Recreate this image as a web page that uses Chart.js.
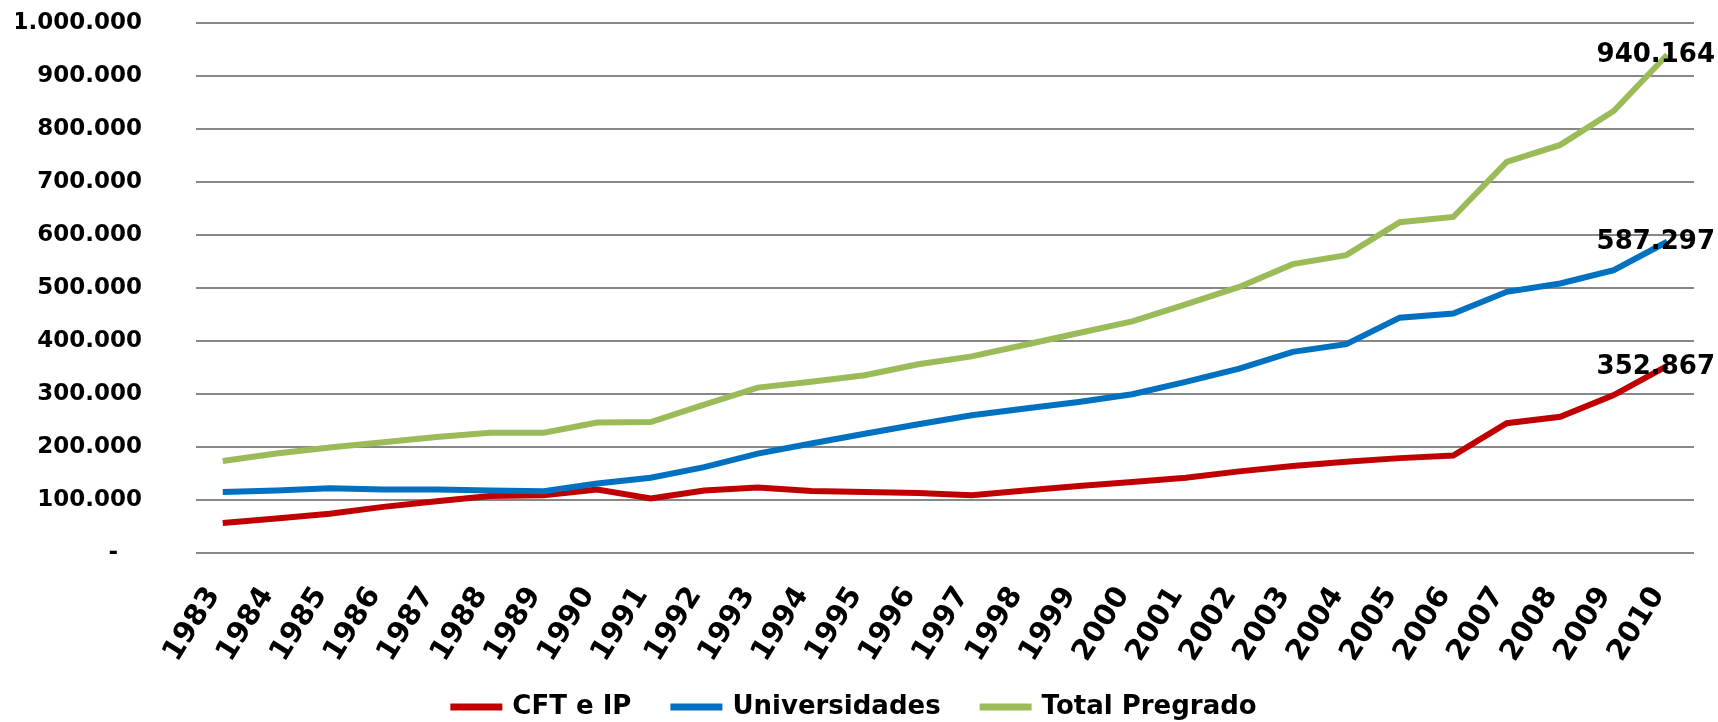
<!DOCTYPE html>
<html>
<head>
<meta charset="utf-8">
<script src="https://cdn.jsdelivr.net/npm/chart.js@4.4.1/dist/chart.umd.min.js"></script>
<style>
	html, body { margin: 0; padding: 0; background: #fff; }
	#wrap { width: 1718px; height: 722px; }
</style>
</head>
<body>
<div id="wrap"><canvas id="matricula"></canvas></div>
<script>
const years = ["1983", "1984", "1985", "1986", "1987", "1988", "1989", "1990", "1991", "1992",
	"1993", "1994", "1995", "1996", "1997", "1998", "1999", "2000", "2001", "2002",
	"2003", "2004", "2005", "2006", "2007", "2008", "2009", "2010"];

const cftIp = [56700, 65000, 74000, 87000, 97600, 107600, 109000, 119600, 102700, 118000,
	123400, 117000, 115000, 113000, 109000, 118000, 126500, 134000, 142000, 154000,
	164000, 172000, 179000, 184000, 245000, 257000, 298000, 352867];

const universidades = [115000, 118000, 122000, 120000, 120000, 118000, 116500, 131000, 142000, 162000,
	187600, 206500, 225000, 243000, 260000, 272600, 285000, 299600, 322800, 348000,
	379500, 394000, 444000, 452000, 492800, 508600, 533700, 587297];

const totalPregrado = [173700, 187600, 199000, 209000, 219000, 227000, 227000, 246000, 247000, 280000,
	312000, 323000, 335500, 356000, 371000, 393000, 415000, 437000, 469000, 502000,
	545000, 562000, 624000, 634000, 738000, 770000, 834000, 940164];

const yMin = 0;
const yMax = 1000000;
const yStep = 100000;

const FONT = "'DejaVu Sans', Verdana, sans-serif";

// 1.000.000 style, zero shown as a dash like excel accounting format
function fmt(v) {
	if (v === 0) return "-   ";
	return String(Math.round(v)).replace(/\B(?=(\d{3})+(?!\d))/g, ".");
}

// last value of each series written at the right edge
const endLabels = {
	id: "endLabels",
	afterDatasetsDraw(chart) {
		const ctx = chart.ctx;
		ctx.save();
		ctx.font = "bold 26px " + FONT;
		ctx.fillStyle = "#000";
		ctx.textAlign = "right";
		ctx.textBaseline = "middle";
		chart.data.datasets.forEach((ds, i) => {
			const meta = chart.getDatasetMeta(i);
			const last = meta.data[meta.data.length - 1];
			ctx.fillText(fmt(ds.data[ds.data.length - 1]), chart.width - 3, last.y + 1);
		});
		ctx.restore();
	}
};

document.addEventListener("DOMContentLoaded", function () {
	const ctx = document.getElementById("matricula").getContext("2d");

	new Chart(ctx, {
		type: "line",
		data: {
			labels: years,
			datasets: [
				{ label: "CFT e IP", data: cftIp, borderColor: "#C00000", backgroundColor: "#C00000", order: 3 },
				{ label: "Universidades", data: universidades, borderColor: "#0070C0", backgroundColor: "#0070C0", order: 2 },
				{ label: "Total Pregrado", data: totalPregrado, borderColor: "#9BBB59", backgroundColor: "#9BBB59", order: 1 }
			]
		},
		options: {
			responsive: true,
			maintainAspectRatio: false,
			animation: false,
			layout: { padding: { left: 16, right: 24, top: 23, bottom: -8 } },
			elements: {
				line: { borderWidth: 6, tension: 0, borderCapStyle: "butt" },
				point: { radius: 0, hoverRadius: 0 }
			},
			scales: {
				x: {
					offset: true,
					grid: { display: false },
					border: { display: false },
					ticks: {
						color: "#000",
						font: { family: FONT, size: 29, weight: "bold" },
						minRotation: 58,
						maxRotation: 58,
						autoSkip: false,
						padding: 20,
						labelOffset: -9
					},
					afterFit: (scale) => {
						scale.height = 99;
						scale.paddingLeft = 0;
						scale.paddingRight = 0;
						// labels hang into the legend band, don't clip them to the axis box
						scale._computeLabelArea = () => null;
					}
				},
				y: {
					min: yMin,
					max: yMax,
					border: { display: false },
					grid: { color: "#878787", lineWidth: 2, drawTicks: false },
					ticks: {
						stepSize: yStep,
						color: "#000",
						padding: 54,
						font: { family: FONT, size: 23, weight: "bold" },
						callback: (v) => fmt(v)
					},
					afterFit: (scale) => {
						scale.width = 180;
						scale.paddingTop = 0;
						scale.paddingBottom = 0;
					}
				}
			},
			plugins: {
				legend: {
					position: "bottom",
					labels: {
						color: "#000",
						font: { family: FONT, size: 26, weight: "bold" },
						boxWidth: 46,
						boxHeight: 1,
						padding: 42,
						sort: (a, b) => a.datasetIndex - b.datasetIndex
					}
				},
				tooltip: { enabled: false }
			}
		},
		plugins: [endLabels]
	});
});
</script>
</body>
</html>
